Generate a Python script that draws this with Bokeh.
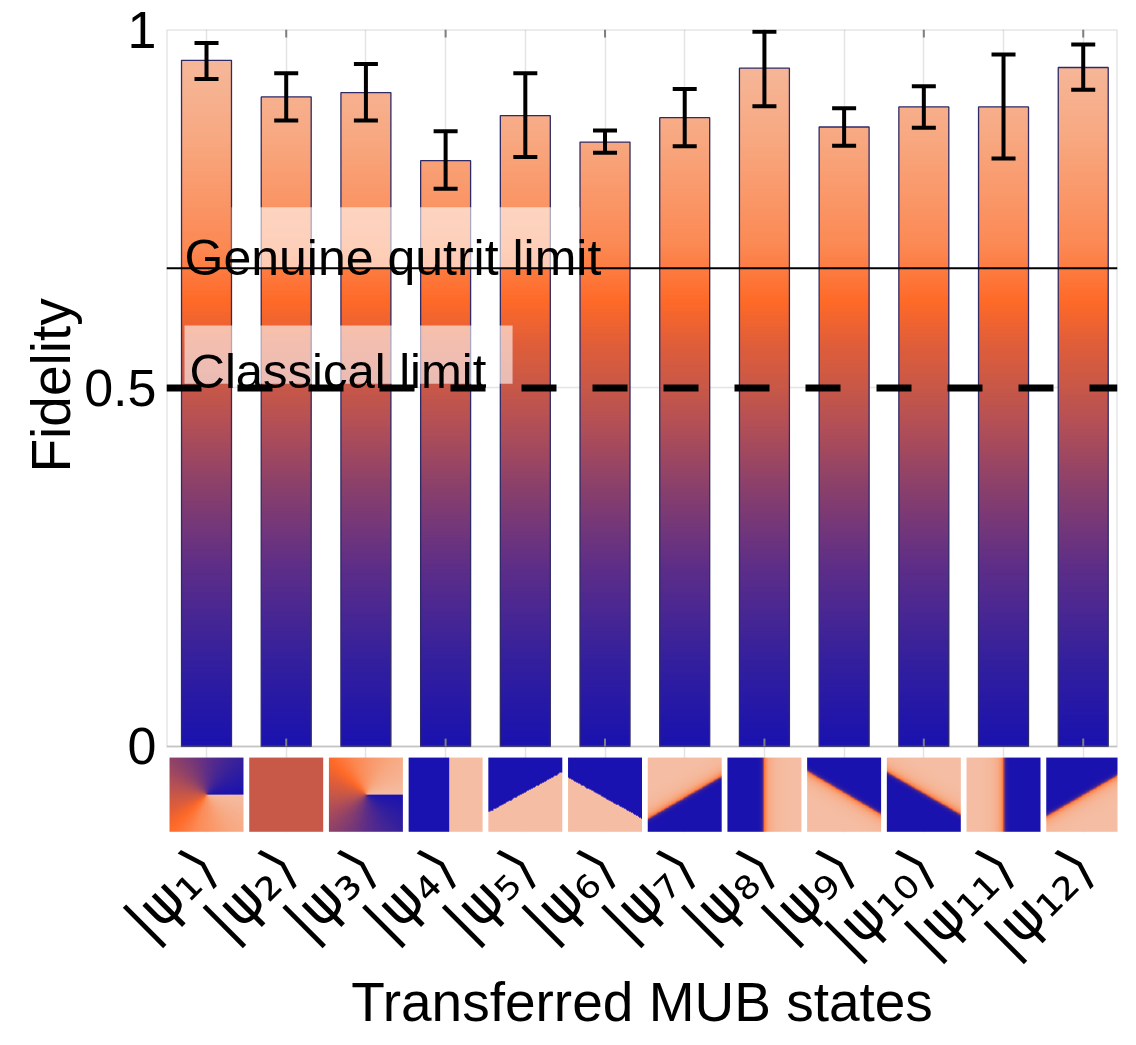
import numpy as np
from bokeh.plotting import figure
from bokeh.models import (Range1d, FixedTicker, Whisker, TeeHead, Title,
                          ColumnDataSource, Span, Label, BoxAnnotation)
from bokeh.embed import file_html
from bokeh.resources import INLINE

# ---------------- data ----------------
states = ["|ψ₁⟩", "|ψ₂⟩", "|ψ₃⟩", "|ψ₄⟩", "|ψ₅⟩", "|ψ₆⟩",
          "|ψ₇⟩", "|ψ₈⟩", "|ψ₉⟩", "|ψ₁₀⟩", "|ψ₁₁⟩", "|ψ₁₂⟩"]
state_index = list(range(1, 13))
fidelity = [0.957, 0.906, 0.912, 0.817, 0.880, 0.843,
            0.877, 0.946, 0.864, 0.892, 0.892, 0.947]
err_upper = [0.981, 0.939, 0.952, 0.858, 0.939, 0.859,
             0.917, 0.997, 0.890, 0.921, 0.965, 0.979]
err_lower = [0.931, 0.873, 0.873, 0.778, 0.822, 0.828,
             0.837, 0.893, 0.838, 0.863, 0.820, 0.916]
classical_limit = 0.5
genuine_limit = 0.667
y_ticks = [0, 0.5, 1]
y_tick_labels = ["0", "0.5", "1"]
x_tick_marks = [2, 4, 6, 8, 10, 12]

FONT = "Liberation Sans"
GRAY = "#7f7f7f"

# ---------------- colour map ----------------
_stops = [0.0, 0.12, 0.25, 0.36, 0.45, 0.5, 0.56, 0.62, 0.70, 0.85, 1.0]
_cols = ["#1a12b0", "#34209e", "#5e2e88", "#8a406c", "#b45056", "#c85848",
         "#e05e3a", "#ff6a28", "#fc8a55", "#f8a982", "#f5bea4"]
_rgb = np.array([[int(c[i:i + 2], 16) for i in (1, 3, 5)] for c in _cols], float)


def cmap_rgba(vals):
    vals = np.clip(np.asarray(vals, float), 0, 1)
    shape = vals.shape
    flat = vals.ravel()
    out = np.empty(flat.shape, dtype=np.uint32)
    view = out.view(dtype=np.uint8).reshape(flat.shape + (4,))
    for ch in range(3):
        view[:, ch] = np.interp(flat, _stops, _rgb[:, ch]).astype(np.uint8)
    view[:, 3] = 255
    return out.reshape(shape)


X0, X1 = 0.498, 12.43
Y0, Y1 = -0.12, 1.0
bar_w = 0.627
thumb_w = 0.928
thumb_bottom = -0.119
thumb_h = 0.1035
tick_len = 0.011

p = figure(frame_width=951, frame_height=803, x_range=Range1d(X0, X1), y_range=Range1d(Y0, Y1),
           min_border_left=166, min_border_right=9, min_border_top=29, min_border_bottom=2,
           toolbar_location=None, output_backend="svg")
p.outline_line_color = None
p.background_fill_color = "white"
p.border_fill_color = "white"

p.xgrid.ticker = FixedTicker(ticks=state_index)
p.xgrid.grid_line_color = "#e4e4e4"
p.xgrid.grid_line_width = 1.5
p.ygrid.ticker = FixedTicker(ticks=y_ticks)
p.ygrid.grid_line_color = "#e4e4e4"
p.ygrid.grid_line_width = 1.5

xa = p.below[0]
ya = p.left[0]

ya.ticker = FixedTicker(ticks=y_ticks)
ya.major_label_overrides = {t: s for t, s in zip(y_ticks, y_tick_labels)}
ya.major_label_text_font = FONT
ya.major_label_text_font_size = "52px"
ya.major_label_text_color = "black"
ya.major_label_standoff = 10
ya.major_tick_in = 0
ya.major_tick_out = 0
ya.minor_tick_in = 0
ya.minor_tick_out = 0
ya.axis_line_color = None

# gradient bars (colour follows the absolute fidelity value)
bar_imgs = []
for v in fidelity:
    ys = (np.arange(400) + 0.5) / 400 * v
    bar_imgs.append(cmap_rgba(ys).reshape(400, 1))
p.image_rgba(image=bar_imgs, x=[i - bar_w / 2 for i in state_index], y=[0] * 12,
             dw=[bar_w] * 12, dh=fidelity)
p.vbar(x=state_index, top=fidelity, width=bar_w, fill_color=None,
       line_color="#2e2a66", line_width=1.3)

# inward tick marks on the top and bottom edges of the bar area
n_t = len(x_tick_marks)
p.segment(x0=x_tick_marks, x1=x_tick_marks, y0=[Y1 - tick_len] * n_t, y1=[Y1] * n_t,
          line_color=GRAY, line_width=2)
p.segment(x0=x_tick_marks, x1=x_tick_marks, y0=[0] * n_t, y1=[tick_len] * n_t,
          line_color=GRAY, line_width=2)

# ---------------- thumbnails ----------------
N = 128
uu, vv = np.meshgrid((np.arange(N) + 0.5) / N, (np.arange(N) + 0.5) / N)


def line_dist(yl, yr):
    return (vv - (yl + (yr - yl) * uu)) / np.sqrt(1 + (yr - yl) ** 2)


def sharp(d):
    return np.where(d > 0, 1.0, 0.0)


def soft(d):
    return np.where(d < 0, 0.62 * np.exp(d / 0.02), 0.62 + 0.38 * (1 - np.exp(-d / 0.07)))


ang = np.mod(np.arctan2(vv - 0.5, uu - 0.5), 2 * np.pi) / (2 * np.pi)
patterns = [
    ang,
    np.full_like(uu, 0.5),
    1 - ang,
    sharp(uu - 0.55),
    1 - sharp(line_dist(0.26, 0.81)),
    1 - sharp(line_dist(0.73, 0.17)),
    soft(line_dist(0.18, 0.76)),
    soft(uu - 0.49),
    soft(-line_dist(0.81, 0.22)),
    soft(line_dist(0.81, 0.23)),
    soft(0.49 - uu),
    soft(-line_dist(0.20, 0.78)),
]
thumbs = [cmap_rgba(pt) for pt in patterns]
p.image_rgba(image=thumbs, x=[i - thumb_w / 2 for i in state_index], y=[thumb_bottom] * 12,
             dw=[thumb_w] * 12, dh=[thumb_h] * 12)

# frame of the bar area
p.add_layout(BoxAnnotation(left=X0, right=X1, bottom=0, top=1, fill_color=None, fill_alpha=0,
                           line_color=GRAY, line_width=2))

# limit labels with translucent boxes
p.add_layout(BoxAnnotation(left=1.314, right=5.68, bottom=genuine_limit, top=0.752,
                           fill_color="white", fill_alpha=0.6, line_color=None))
p.add_layout(BoxAnnotation(left=0.724, right=4.84, bottom=0.506, top=0.587,
                           fill_color="white", fill_alpha=0.6, line_color=None))
p.add_layout(Label(x=0.724, y=0.681, text="Genuine qutrit limit", text_font=FONT,
                   text_font_size="50px", text_color="black", text_baseline="alphabetic"))
p.add_layout(Label(x=0.787, y=0.524, text="Classical limit", text_font=FONT,
                   text_font_size="49px", text_color="black", text_baseline="alphabetic"))

p.add_layout(Span(location=genuine_limit, dimension="width", line_color="black",
                  line_width=2))
p.add_layout(Span(location=classical_limit, dimension="width", line_color="black",
                  line_width=7, line_dash="35 36"))

src = ColumnDataSource(dict(x=state_index, upper=err_upper, lower=err_lower))
p.add_layout(Whisker(source=src, base="x", upper="upper", lower="lower", level="annotation",
                     line_color="black", line_width=4,
                     upper_head=TeeHead(size=24, line_width=4, line_color="black"),
                     lower_head=TeeHead(size=24, line_width=4, line_color="black")))

# y axis title, centred on the bar area (not on the whole frame)
p.add_layout(Title(text="Fidelity", align="left", offset=360, text_font=FONT,
                   text_font_size="55px", text_font_style="normal", text_color="black",
                   standoff=0), "left")

# bottom: state labels and title
xa.ticker = FixedTicker(ticks=state_index)
xa.major_label_overrides = {i: s for i, s in zip(state_index, states)}
xa.major_label_orientation = np.pi / 4
xa.major_label_text_font = "DejaVu Sans"
xa.major_label_text_font_size = "57px"
xa.major_label_text_color = "black"
xa.major_label_standoff = 25
xa.major_tick_in = 0
xa.major_tick_out = 0
xa.minor_tick_in = 0
xa.minor_tick_out = 0
xa.axis_line_color = None
xa.axis_label = "Transferred MUB states"
xa.axis_label_text_font = FONT
xa.axis_label_text_font_size = "55px"
xa.axis_label_text_font_style = "normal"
xa.axis_label_text_color = "black"
xa.axis_label_standoff = -24

open("out.html", "w").write(file_html(p, INLINE))
